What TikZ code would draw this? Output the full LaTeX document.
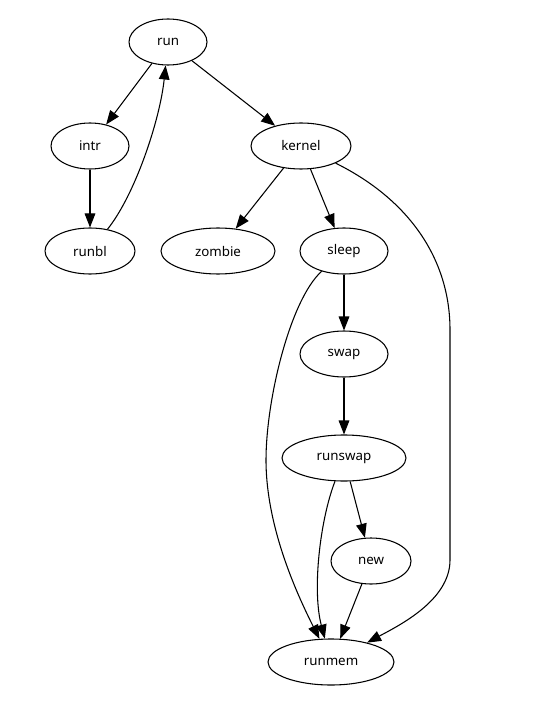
\documentclass[tikz,border=0pt]{standalone}
\usepackage{fontspec}
\setmainfont{Noto Sans}
\usetikzlibrary{shapes.geometric,arrows.meta}
\begin{document}
\begin{tikzpicture}[x=0.75pt,y=-0.75pt,
  st/.style={draw,ellipse,line width=0.8pt,inner sep=0pt,minimum height=34.5pt,minimum width=#1*1.5pt,font=\fontsize{10}{12}\selectfont},
  edge/.style={line width=0.8pt,-{Triangle[length=10.5pt,width=8pt]}}]
\useasboundingbox (0,0) rectangle (556,720);
\node[st=39] (run) at (168,42) {run};
\node[st=39] (intr) at (90,146) {intr};
\node[st=45] (runbl) at (90,251) {runbl};
\node[st=50] (kernel) at (301,146) {kernel};
\node[st=57] (zombie) at (218,251) {zombie};
\node[st=44] (sleep) at (344,251) {sleep};
\node[st=44] (swap) at (344,354) {swap};
\node[st=62] (runswap) at (344,458) {runswap};
\node[st=40] (new) at (371,561) {new};
\node[st=63] (runmem) at (331,662) {runmem};
\draw[edge] (run) -- (intr);
\draw[edge] (run) -- (kernel);
\draw[edge] (intr) -- (runbl);
\draw[edge] (runbl) .. controls (135,195) and (160,120) .. (run);
\draw[edge] (kernel) -- (zombie);
\draw[edge] (kernel) -- (sleep);
\draw[edge] (kernel) .. controls (410,200) and (450,260) .. (450,330) -- (450,560) .. controls (450,600) and (400,625) .. (runmem);
\draw[edge] (sleep) -- (swap);
\draw[edge] (sleep) .. controls (290,300) and (266,400) .. (266,460) .. controls (266,530) and (300,600) .. (runmem);
\draw[edge] (swap) -- (runswap);
\draw[edge] (runswap) -- (new);
\draw[edge] (runswap) .. controls (320,520) and (312,590) .. (runmem);
\draw[edge] (new) -- (runmem);
\end{tikzpicture}
\end{document}
